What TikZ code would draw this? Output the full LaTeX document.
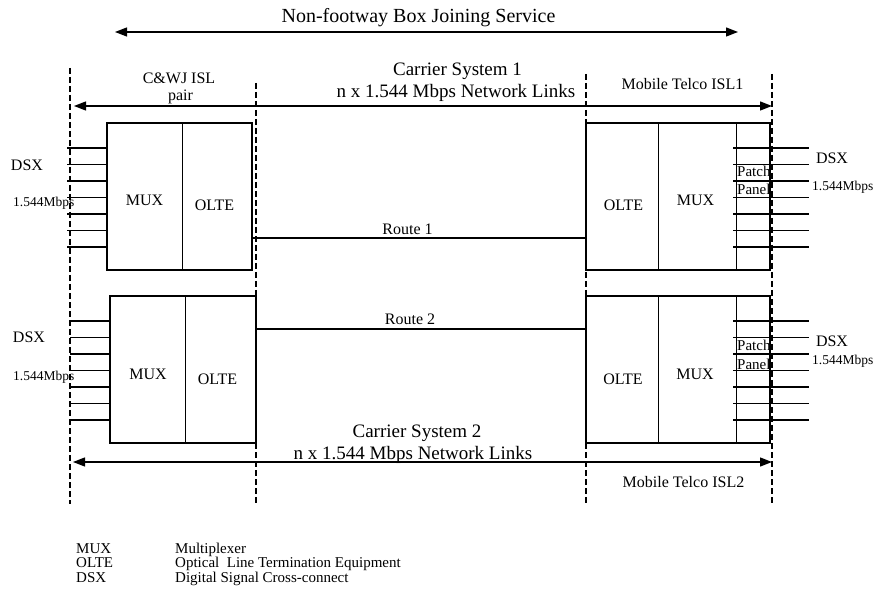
\documentclass[tikz,border=0pt]{standalone}
\usepackage{fontspec}
\setmainfont{Liberation Serif}
\usetikzlibrary{arrows.meta}

\tikzset{
  unit/.style={draw, line width=2.8pt, inner sep=0pt, minimum height=147pt},
  isl/.style={line width=2pt, dash pattern=on 6pt off 3pt},
  span/.style={line width=1.3pt, {Triangle[length=12pt,width=9pt]}-{Triangle[length=12pt,width=9pt]}},
  route/.style={line width=2.8pt},
  feed/.style={line width=1.1pt},
  split/.style={line width=0.9pt},
  lbl/.style={inner sep=0pt, anchor=base, font=\fontsize{16}{18}\selectfont},
  big/.style={lbl, font=\fontsize{19}{21}\selectfont},
  rate/.style={inner sep=0pt, anchor=base west, font=\fontsize{13.5}{15}\selectfont},
  key/.style={inner sep=0pt, anchor=base west, font=\fontsize{15}{16}\selectfont},
}

\begin{document}
\begin{tikzpicture}[x=1pt, y=-1pt]
\useasboundingbox (0,0) rectangle (877,601);

% whole service
\coordinate (svcL) at (115,32);
\coordinate (svcR) at (738,32);
\draw[span] (svcL) -- (svcR);
\node[lbl, font=\fontsize{20}{22}\selectfont] (svc) at (418.5,23) {Non-footway Box Joining Service};

% ISL boundaries
\draw[isl] (70,68) -- (70,504);
\draw[isl] (256,83) -- (256,504);
\draw[isl] (586,74) -- (586,504);
\draw[isl] (772,74) -- (772,504);

% carrier systems
\coordinate (cs1L) at (74,106);
\coordinate (cs1R) at (772,106);
\draw[span] (cs1L) -- (cs1R);
\coordinate (cs2L) at (73,462);
\coordinate (cs2R) at (772,462);
\draw[span] (cs2L) -- (cs2R);
\node[big] (cs1) at (457.5,76) {Carrier System 1};
\node[big] (cs1n) at (456,98) {n x 1.544 Mbps Network Links};
\node[big] (cs2) at (417,437) {Carrier System 2};
\node[big] (cs2n) at (413,459) {n x 1.544 Mbps Network Links};
\node[lbl] (cwj) at (179,84) {C\&WJ ISL};
\node[lbl] (cwjp) at (180.5,101) {pair};
\node[lbl] (mt1) at (682.5,90) {Mobile Telco ISL1};
\node[lbl] (mt2) at (683.5,487) {Mobile Telco ISL2};

% 1.544 Mbps tributaries
\foreach \k [evaluate=\k as \y using 148+16.5*\k] in {0,...,6} {
  \draw[feed] (67,\y) -- (107,\y);
  \draw[feed] (733,\y) -- (809,\y);
}
\foreach \k [evaluate=\k as \y using 321+16.5*\k] in {0,...,6} {
  \draw[feed] (70,\y) -- (110,\y);
  \draw[feed] (733,\y) -- (809,\y);
}
\node[lbl] (dsxA) at (27,170.5) {DSX};
\node[rate] (rateA) at (13,206.7) {1.544Mbps};
\node[lbl] (dsxB) at (29,342.5) {DSX};
\node[rate] (rateB) at (13,380.7) {1.544Mbps};
\node[lbl] (dsxC) at (832,164) {DSX};
\node[rate] (rateC) at (812,190.7) {1.544Mbps};
\node[lbl] (dsxD) at (832,346) {DSX};
\node[rate] (rateD) at (812,364) {1.544Mbps};
\node[key] (patchC) at (737,177) {Patch};
\node[key] (panelC) at (737,195) {Panel};
\node[key] (patchD) at (737,350) {Patch};
\node[key] (panelD) at (737,369) {Panel};

% equipment
\draw[split] (182,123) -- (182,270);
\draw[split] (185,296) -- (185,443);
\draw[split] (658,123) -- (658,270);
\draw[split] (736,123) -- (736,270);
\draw[split] (658,296) -- (658,443);
\draw[split] (736,296) -- (736,443);
\node[unit, minimum width=145pt] (boxA) at (179.5,196.5) {};
\node[unit, minimum width=146pt] (boxB) at (183,369.5) {};
\node[unit, minimum width=184pt] (boxC) at (678,196.5) {};
\node[unit, minimum width=184pt] (boxD) at (678,369.5) {};
\node[lbl] (muxA) at (144.5,205.7) {MUX};
\node[lbl] (olteA) at (214.5,210.7) {OLTE};
\node[lbl] (muxB) at (148,379) {MUX};
\node[lbl] (olteB) at (217.5,384) {OLTE};
\node[lbl] (olteC) at (623.5,210.7) {OLTE};
\node[lbl] (muxC) at (695.5,205.7) {MUX};
\node[lbl] (olteD) at (623,384) {OLTE};
\node[lbl] (muxD) at (695,379) {MUX};

% routes
\draw[route] ([yshift=-41.5pt]boxA.east) -- ([yshift=-41.5pt]boxC.west);
\draw[route] ([yshift=40.5pt]boxB.east) -- ([yshift=40.5pt]boxD.west);
\node[lbl] (rt1) at (407.5,235) {Route 1};
\node[lbl] (rt2) at (410,324) {Route 2};

% legend
\node[key] (k1) at (76,553) {MUX};
\node[key] (d1) at (175,553) {Multiplexer};
\node[key] (k2) at (76,567.5) {OLTE};
\node[key] (d2) at (175,567.5) {Optical\ \ Line Termination Equipment};
\node[key] (k3) at (76,582) {DSX};
\node[key] (d3) at (175,582) {Digital Signal Cross-connect};
\end{tikzpicture}
\end{document}
